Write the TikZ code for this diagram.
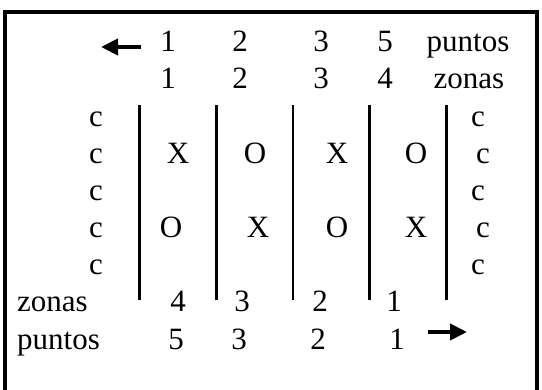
\documentclass[tikz,border=0pt]{standalone}
\usepackage{fontspec}
\setmainfont{Liberation Serif}
\usepackage{tikz}
\usetikzlibrary{arrows.meta}

\begin{document}
\begin{tikzpicture}[x=1pt, y=-1pt,
    every node/.style={font=\fontsize{31}{37}\selectfont, inner sep=0pt, anchor=base},
    label/.style={anchor=base west},
    zoneline/.style={line width=2.6pt},
    movearrow/.style={line width=4pt, -{Triangle[length=17pt, width=16pt]}}]
  \useasboundingbox (0,0) rectangle (542,390);

  % marco (abierto por abajo)
  \draw[line width=4pt] (5,390) -- (5,12) -- (537,12) -- (537,390);

  % cabecera: puntos y zonas
  \coordinate (arrTopA) at (141,47);
  \coordinate (arrTopB) at (101,47);
  \draw[movearrow] (arrTopA) -- (arrTopB);
  \node (pt1) at (168,52) {1};
  \node (pt2) at (240,52) {2};
  \node (pt3) at (321,52) {3};
  \node (pt4) at (385,52) {5};
  \node (ptLab) at (468,52) {puntos};
  \node (zn1) at (168,89) {1};
  \node (zn2) at (240,89) {2};
  \node (zn3) at (321,89) {3};
  \node (zn4) at (385,89) {4};
  \node (znLab) at (469,89) {zonas};

  % lineas de las zonas
  \draw[zoneline] (139.5,105) -- (139.5,300);
  \draw[zoneline] (216.5,105) -- (216.5,300);
  \draw[zoneline] (293,105) -- (293,300);
  \draw[zoneline] (369.5,105) -- (369.5,300);
  \draw[zoneline] (446.5,105) -- (446.5,300);

  % columnas de c
  \node (cl1) at (96,127) {c};
  \node (cl2) at (96,164) {c};
  \node (cl3) at (96,201) {c};
  \node (cl4) at (96,238) {c};
  \node (cl5) at (96,275) {c};
  \node (cr1) at (478,127) {c};
  \node (cr2) at (483,164) {c};
  \node (cr3) at (478,201) {c};
  \node (cr4) at (483,238) {c};
  \node (cr5) at (478,275) {c};

  % fichas
  \node (a1) at (178,164) {X};
  \node (a2) at (255,164) {O};
  \node (a3) at (337,164) {X};
  \node (a4) at (416,164) {O};
  \node (b1) at (171,238) {O};
  \node (b2) at (258,238) {X};
  \node (b3) at (337,238) {O};
  \node (b4) at (416,238) {X};

  % pie: zonas y puntos
  \node[label] (znLabB) at (17,312) {zonas};
  \node (znb4) at (178,312) {4};
  \node (znb3) at (242,312) {3};
  \node (znb2) at (320,312) {2};
  \node (znb1) at (394,312) {1};
  \node[label] (ptLabB) at (17,350) {puntos};
  \node (ptb5) at (176,350) {5};
  \node (ptb3) at (239,350) {3};
  \node (ptb2) at (318,350) {2};
  \node (ptb1) at (397,350) {1};
  \coordinate (arrBotA) at (428,332);
  \coordinate (arrBotB) at (467,332);
  \draw[movearrow] (arrBotA) -- (arrBotB);
\end{tikzpicture}
\end{document}
